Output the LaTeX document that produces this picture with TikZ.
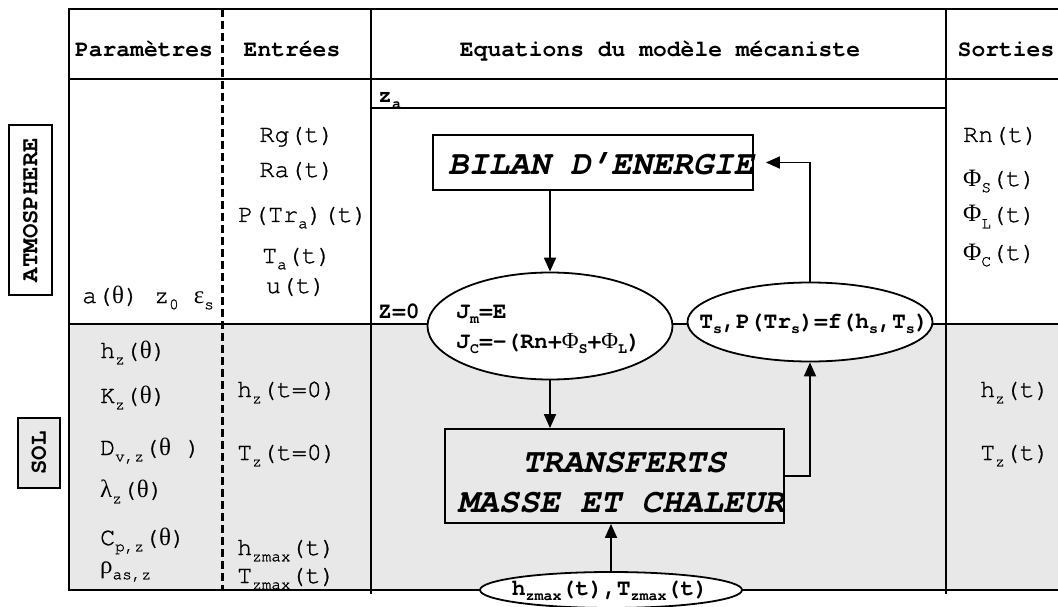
\documentclass[tikz,border=0pt]{standalone}
\usepackage{fontspec}
\setmonofont{texgyrecursor}[Extension=.otf,UprightFont=*-regular,BoldFont=*-bold,ItalicFont=*-italic,BoldItalicFont=*-bolditalic,UprightFeatures={FakeBold=1}]
\newfontfamily\grk{Liberation Serif}
\usetikzlibrary{shapes.geometric,arrows.meta}
\definecolor{solgray}{HTML}{E8E8E8}
\newcommand\fsz[1]{\fontsize{#1}{#1}\selectfont}
\newcommand\sbs[2][16]{\raisebox{-0.25em}{\fsz{#1}#2}}
\newcommand\gk[1]{{\grk\mdseries #1}}
\begin{document}
\begin{tikzpicture}[x=1pt,y=-1pt,
 tline/.style={line width=2.2pt},
 thinline/.style={line width=1.5pt},
 arr/.style={line width=1.8pt,-{Triangle[length=14pt,width=12pt]}},
 box/.style={draw,line width=1.8pt,inner sep=0pt},
 boxtxt/.style={font=\ttfamily\bfseries\itshape\fsz{34},inner sep=0pt,anchor=base},
 ell/.style={ellipse,draw,fill=white,line width=1.8pt,inner sep=0pt},
 hdr/.style={font=\ttfamily\bfseries\fsz{23},inner sep=0pt,anchor=base},
 txt/.style={font=\ttfamily\fsz{25},inner sep=0pt,anchor=base west},
 ctxt/.style={txt,anchor=base},
 btxt/.style={font=\ttfamily\bfseries\fsz{23},inner sep=0pt,anchor=base west},
 side/.style={draw,line width=2pt,rotate=90,inner sep=0pt,font=\ttfamily\bfseries\fsz{24}}]

\useasboundingbox (0,0) rectangle (1058,607);
\fill[solgray] (69,324) rectangle (1058,590);
% table
\draw[tline] (1058,9) -- (69,9) -- (69,590) -- (1058,590);
\draw[tline] (69,79) -- (1058,79);
\draw[tline] (69,324) -- (1058,324);
\draw[tline] (371,9) -- (371,594);
\draw[tline] (946,9) -- (946,594);
\draw[thinline] (371,108) -- (946,108);
\draw[line width=3pt,dash pattern=on 8pt off 4pt] (222,9) -- (222,590);

% headers
\node[hdr] (hpar) at (144,57) {Paramètres};
\node[hdr] (hent) at (292,57) {Entrées};
\node[hdr] (heq) at (660,57) {Equations du modèle mécaniste};
\node[hdr] (hsor) at (1006,57) {Sorties};

% side labels
\node[side,minimum width=170,minimum height=43] (atm) at (30.5,210) {ATMOSPHERE};
\node[side,fill=solgray,minimum width=70,minimum height=42] (sol) at (39,453) {SOL};

% atmosphere inputs
\node[ctxt] (rg) at (297,142) {Rg(t)};
\node[ctxt] (ra) at (297,177) {Ra(t)};
\node[ctxt] (ptra) at (303,222) {P(Tr\sbs{a})(t)};
\node[ctxt] (ta) at (297,263) {T\sbs{a}(t)};
\node[ctxt] (ut) at (296,293) {u(t)};
\node[txt] (apar) at (82,303) {a(\gk{θ}) z\sbs{0} \gk{ε}\sbs{s}};

% atmosphere outputs
\node[txt] (rn) at (963,142) {Rn(t)};
\node[txt] (phis) at (963,186) {\gk{Φ}\sbs{S}(t)};
\node[txt] (phil) at (963,222) {\gk{Φ}\sbs{L}(t)};
\node[txt] (phic) at (963,260) {\gk{Φ}\sbs{C}(t)};

% soil parameters
\node[txt] (hzth) at (100,358) {h\sbs{z}(\gk{θ})};
\node[txt] (kzth) at (100,403) {K\sbs{z}(\gk{θ})};
\node[txt] (dvz) at (100,455) {D\sbs{v,z}(\gk{θ} )};
\node[txt] (lz) at (100,497) {\gk{λ}\sbs{z}(\gk{θ})};
\node[txt] (cpz) at (100,545) {C\sbs{p,z}(\gk{θ})};
\node[txt] (rho) at (100,573) {\gk{ρ}\sbs{as,z}};

% soil inputs
\node[txt] (hz0) at (237,397) {h\sbs{z}(t=0)};
\node[txt] (tz0) at (237,460) {T\sbs{z}(t=0)};
\node[txt] (hzm) at (237,555) {h\sbs{zmax}(t)};
\node[txt] (tzm) at (237,583) {T\sbs{zmax}(t)};

% soil outputs
\node[txt] (hzt) at (980,397) {h\sbs{z}(t)};
\node[txt] (tzt) at (980,460) {T\sbs{z}(t)};

% levels
\node[btxt] (za) at (378,103) {z\sbs[15]{a}};
\node[btxt] (z0) at (378,318) {Z=0};

% model
\node[box,minimum width=320,minimum height=55] (bilan) at (593,162.5) {};
\node[boxtxt] (bilantxt) at (601,175) {BILAN D’ENERGIE};

\node[ell,minimum width=245,minimum height=107] (J) at (550,326) {};
\node[btxt] (jm) at (456,318) {J\sbs[15]{m}=E};
\node[btxt] (jc) at (456,348) {J\sbs[15]{C}=-(Rn+\gk{Φ}\sbs[15]{S}+\gk{Φ}\sbs[15]{L})};

\node[ell,minimum width=245,minimum height=79] (Ts) at (810,322) {};
\node[btxt,anchor=base] (tstxt) at (814,328) {T\sbs[15]{s},P(Tr\sbs[15]{s})=f(h\sbs[15]{s},T\sbs[15]{s})};

\node[box,minimum width=339,minimum height=94] (tr) at (614.5,476) {};
\node[boxtxt] (trtxt1) at (624,472) {TRANSFERTS};
\node[boxtxt] (trtxt2) at (621,512) {MASSE ET CHALEUR};

\node[ell,minimum width=262,minimum height=36] (hzb) at (611,590) {};
\node[btxt,anchor=base] (hzbtxt) at (610,595) {h\sbs[15]{zmax}(t),T\sbs[15]{zmax}(t)};

% connectors
\draw[arr] (J.north |- bilan.south) -- (J.north);
\draw[arr] (J.south) -- (J.south |- tr.north);
\draw[arr] (tr.east) -| (Ts.south);
\draw[arr] (Ts.north) |- ([xshift=12pt]bilan.east);
\draw[arr] (hzb.north) -- (hzb.north |- tr.south);
\end{tikzpicture}
\end{document}
